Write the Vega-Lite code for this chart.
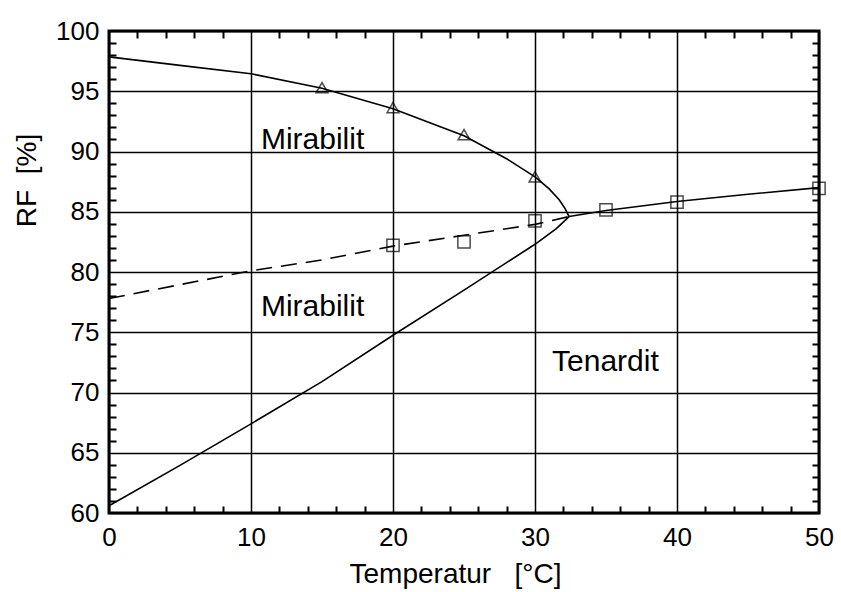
{
  "$schema": "https://vega.github.io/schema/vega-lite/v6.json",
  "autosize": {"type": "none"},
  "width": 710,
  "height": 482,
  "padding": {"left": 109, "top": 31, "right": 22, "bottom": 79},
  "background": "white",
  "config": {
    "view": {"stroke": "black", "strokeWidth": 3},
    "font": "Liberation Sans"
  },
  "datasets": {
    "curves": [
      {"series": "upper", "T": 0, "RF": 97.85},
      {"series": "upper", "T": 5, "RF": 97.15},
      {"series": "upper", "T": 10, "RF": 96.45},
      {"series": "upper", "T": 15, "RF": 95.25},
      {"series": "upper", "T": 20, "RF": 93.55},
      {"series": "upper", "T": 25, "RF": 91.3},
      {"series": "upper", "T": 28, "RF": 89.4},
      {"series": "upper", "T": 30, "RF": 87.9},
      {"series": "upper", "T": 31, "RF": 86.9},
      {"series": "upper", "T": 31.7, "RF": 86.0},
      {"series": "upper", "T": 32.1, "RF": 85.3},
      {"series": "upper", "T": 32.4, "RF": 84.6},
      {"series": "lower", "T": 0, "RF": 60.6},
      {"series": "lower", "T": 5, "RF": 63.95},
      {"series": "lower", "T": 10, "RF": 67.4},
      {"series": "lower", "T": 15, "RF": 70.9},
      {"series": "lower", "T": 20, "RF": 74.75},
      {"series": "lower", "T": 25, "RF": 78.5},
      {"series": "lower", "T": 30, "RF": 82.3},
      {"series": "lower", "T": 31.5, "RF": 83.6},
      {"series": "lower", "T": 32.4, "RF": 84.6},
      {"series": "thenardite", "T": 32.4, "RF": 84.6},
      {"series": "thenardite", "T": 35, "RF": 85.1},
      {"series": "thenardite", "T": 40, "RF": 85.85},
      {"series": "thenardite", "T": 45, "RF": 86.45},
      {"series": "thenardite", "T": 50, "RF": 87.0},
      {"series": "metastable", "T": 0, "RF": 77.8},
      {"series": "metastable", "T": 10, "RF": 80.1},
      {"series": "metastable", "T": 15, "RF": 81.0},
      {"series": "metastable", "T": 20, "RF": 82.15},
      {"series": "metastable", "T": 25, "RF": 83.05},
      {"series": "metastable", "T": 30, "RF": 83.95},
      {"series": "metastable", "T": 32.4, "RF": 84.6}
    ],
    "squares": [
      {"T": 20, "RF": 82.2},
      {"T": 25, "RF": 82.5},
      {"T": 30, "RF": 84.25},
      {"T": 35, "RF": 85.15},
      {"T": 40, "RF": 85.8},
      {"T": 50, "RF": 86.95}
    ],
    "triangles": [
      {"T": 15, "RF": 95.3},
      {"T": 20, "RF": 93.65},
      {"T": 25, "RF": 91.4},
      {"T": 30, "RF": 87.9}
    ],
    "labels": [
      {"label": "Mirabilit", "T": 10.7, "RF": 90.2},
      {"label": "Mirabilit", "T": 10.7, "RF": 76.35},
      {"label": "Tenardit", "T": 31.2, "RF": 71.8}
    ]
  },
  "resolve": {"axis": {"x": "independent", "y": "independent"}},
  "layer": [
    {
      "data": {"name": "curves"},
      "transform": [{"filter": "datum.series !== 'metastable'"}],
      "mark": {"type": "line", "color": "black", "strokeWidth": 1.6},
      "encoding": {
        "x": {
          "field": "T", "type": "quantitative",
          "scale": {"domain": [0, 50], "nice": false, "zero": false},
          "axis": {
            "orient": "bottom",
            "values": [0, 2, 4, 6, 8, 10, 12, 14, 16, 18, 20, 22, 24, 26, 28, 30, 32, 34, 36, 38, 40, 42, 44, 46, 48, 50],
            "labelExpr": "datum.value % 10 === 0 ? datum.label : ''",
            "labelFlush": false,
            "labelOverlap": false,
            "labelFontSize": 26,
            "labelColor": "black",
            "labelPadding": 4,
            "ticks": true,
            "tickSize": 7,
            "tickOpacity": 0,
            "domain": false,
            "grid": true,
            "gridColor": "black",
            "gridWidth": {"condition": {"test": "datum.value % 10 === 0", "value": 1.5}, "value": 2},
            "gridDash": {"condition": {"test": "datum.value % 10 === 0", "value": []}, "value": [7, 468]},
            "title": "Temperatur\u00a0\u00a0\u00a0[°C]",
            "titleFontSize": 28,
            "titleFontWeight": "normal",
            "titleColor": "black",
            "titleX": 346,
            "titleY": 69,
            "titleAlign": "center",
            "titleBaseline": "alphabetic"
          }
        },
        "y": {
          "field": "RF", "type": "quantitative",
          "scale": {"domain": [60, 100], "nice": false, "zero": false},
          "axis": {
            "orient": "left",
            "values": [60, 61, 62, 63, 64, 65, 66, 67, 68, 69, 70, 71, 72, 73, 74, 75, 76, 77, 78, 79, 80, 81, 82, 83, 84, 85, 86, 87, 88, 89, 90, 91, 92, 93, 94, 95, 96, 97, 98, 99, 100],
            "labelExpr": "datum.value % 5 === 0 ? datum.label : ''",
            "labelOverlap": false,
            "labelFlush": false,
            "labelFontSize": 26,
            "labelColor": "black",
            "labelPadding": 3,
            "ticks": true,
            "tickSize": 7,
            "tickOpacity": 0,
            "domain": false,
            "grid": true,
            "gridColor": "black",
            "gridWidth": {"condition": {"test": "datum.value % 5 === 0", "value": 1.5}, "value": 2},
            "gridDash": {"condition": {"test": "datum.value % 5 === 0", "value": []}, "value": [7, 696]},
            "title": "RF\u00a0\u00a0[%]",
            "titleFontSize": 28,
            "titleFontWeight": "normal",
            "titleColor": "black",
            "titleAngle": -90,
            "titleX": -74,
            "titleY": 149,
            "titleAlign": "center",
            "titleBaseline": "alphabetic"
          }
        },
        "detail": {"field": "series"}
      }
    },
    {
      "data": {"name": "curves"},
      "transform": [{"filter": "datum.series === 'metastable'"}],
      "mark": {"type": "line", "color": "black", "strokeWidth": 1.6, "strokeDash": [16, 9]},
      "encoding": {
        "x": {"field": "T", "type": "quantitative", "axis": null},
        "y": {"field": "RF", "type": "quantitative", "axis": null}
      }
    },
    {
      "data": {"name": "squares"},
      "mark": {"type": "point", "shape": "square", "filled": false, "color": "black", "size": 150, "strokeWidth": 1.5},
      "encoding": {
        "x": {"field": "T", "type": "quantitative", "axis": null},
        "y": {"field": "RF", "type": "quantitative", "axis": null}
      }
    },
    {
      "data": {"name": "triangles"},
      "mark": {"type": "point", "shape": "triangle-up", "filled": false, "color": "black", "size": 140, "strokeWidth": 1.5},
      "encoding": {
        "x": {"field": "T", "type": "quantitative", "axis": null},
        "y": {"field": "RF", "type": "quantitative", "axis": null}
      }
    },
    {
      "data": {"name": "labels"},
      "mark": {"type": "text", "align": "left", "baseline": "alphabetic", "fontSize": 30, "color": "black", "font": "Liberation Sans"},
      "encoding": {
        "x": {"field": "T", "type": "quantitative", "axis": null},
        "y": {"field": "RF", "type": "quantitative", "axis": null},
        "text": {"field": "label"}
      }
    }
  ]
}
